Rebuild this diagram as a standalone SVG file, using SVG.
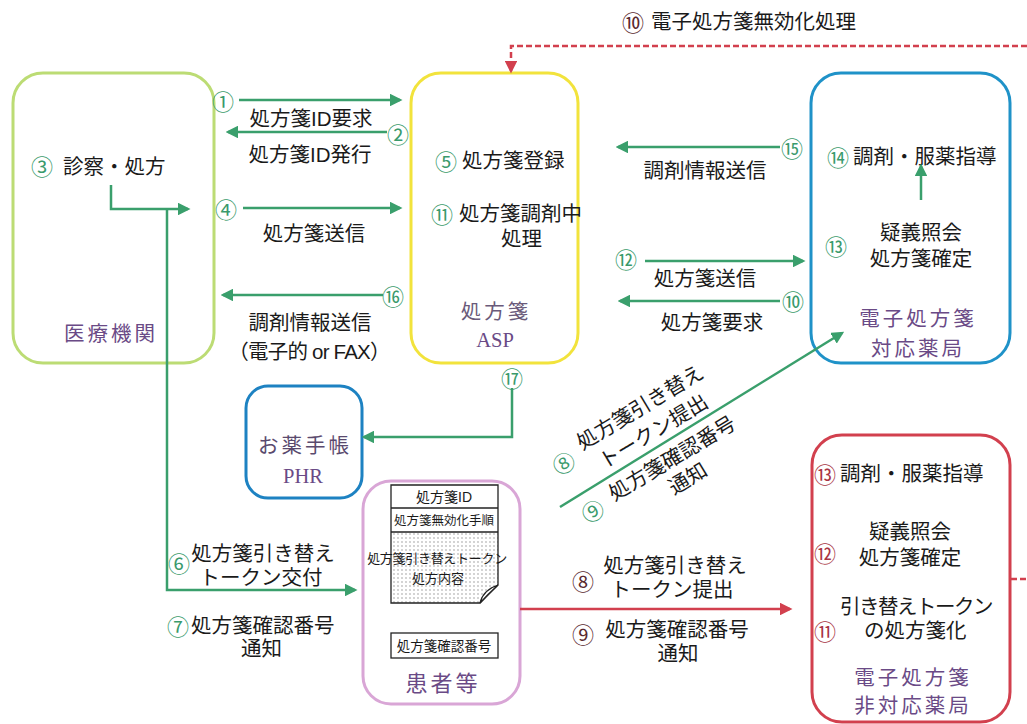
<svg xmlns="http://www.w3.org/2000/svg" width="1027" height="724" viewBox="0 0 1027 724">
<defs>
<style>
text{font-family:"Liberation Sans","Noto Sans CJK JP",sans-serif;fill:#1a1a1a;dominant-baseline:central}
.t{font-size:20.5px}
.m{text-anchor:middle}
.n{font-size:22px;fill:#3a9a6c;text-anchor:middle;font-family:"Noto Sans CJK JP",sans-serif}
.nr{font-size:22px;fill:#a83444;text-anchor:middle;font-family:"Noto Sans CJK JP",sans-serif}
.p{fill:#6a4a86;letter-spacing:3px}
.s{font-family:"Liberation Serif",serif;fill:#6a4a86;letter-spacing:0}
.g{stroke:#3a9f6c;stroke-width:2.5;fill:none}
.r{stroke:#d2404e;stroke-width:2.5;fill:none}
.box{fill:#fff;stroke-width:3}
.d{font-size:13px;text-anchor:middle}
</style>
<marker id="ag" viewBox="0 0 10 10" refX="8" refY="5" markerWidth="5" markerHeight="5" orient="auto"><path d="M0,0L10,5L0,10z" fill="#3a9f6c"/></marker>
<marker id="ar" viewBox="0 0 10 10" refX="8" refY="5" markerWidth="5" markerHeight="5" orient="auto"><path d="M0,0L10,5L0,10z" fill="#d2404e"/></marker>
<pattern id="dots" width="4" height="4" patternUnits="userSpaceOnUse"><rect width="4" height="4" fill="#fff"/><circle cx="2" cy="2" r="0.7" fill="#888"/></pattern>
</defs>

<g id="medical">
<rect class="box" x="13" y="73" width="201" height="290" rx="30" stroke="#bcdc74"/>
<text class="n" x="42" y="165">③</text>
<text class="t" x="63" y="166">診察・処方</text>
<text class="t m p" x="111" y="333">医療機関</text>
</g>

<g id="asp">
<rect class="box" x="411" y="73" width="167" height="290" rx="30" stroke="#f2e33c"/>
<text class="n" x="446" y="160">⑤</text>
<text class="t" x="462" y="160">処方箋登録</text>
<text class="n" x="442" y="213">⑪</text>
<text class="t" x="459" y="213">処方箋調剤中<tspan x="501" dy="25">処理</tspan></text>
<text class="t m" x="496" y="311"><tspan class="p" style="fill:#6a5a7a">処方箋</tspan><tspan class="s" x="495" dy="29">ASP</tspan></text>
</g>

<g id="pharmacy-e">
<rect class="box" x="811" y="73" width="199" height="290" rx="30" stroke="#1f92c8"/>
<text class="n" x="838" y="156">⑭</text>
<text class="t" x="853" y="156">調剤・服薬指導</text>
<text class="n" x="836" y="245">⑬</text>
<text class="t m" x="921" y="232">疑義照会<tspan x="921" dy="26">処方箋確定</tspan></text>
<text class="t m p" x="918" y="318">電子処方箋<tspan x="918" dy="30">対応薬局</tspan></text>
</g>

<g id="phr">
<rect class="box" x="246" y="386" width="116" height="112" rx="22" stroke="#1d82c2"/>
<text class="t m" x="305" y="445"><tspan class="p" style="fill:#5a4a6e">お薬手帳</tspan><tspan class="s" x="303" dy="31">PHR</tspan></text>
</g>

<g id="patient">
<rect class="box" x="363" y="481" width="157" height="223" rx="28" stroke="#d9a6d6"/>
<path d="M391,532H498V585L480,603H391Z" fill="url(#dots)"/>
<path d="M391,485H498V585L480,603H391Z" fill="none" stroke="#222" stroke-width="1.3"/>
<line x1="391" y1="508" x2="498" y2="508" stroke="#222" stroke-width="1.3"/>
<line x1="391" y1="532" x2="498" y2="532" stroke="#222" stroke-width="1.3"/>
<path d="M480,603Q483,590 498,585Q488,594 480,603Z" fill="#fff" stroke="#222" stroke-width="1.2"/>
<text class="d" x="444" y="497" style="font-size:14px">処方箋ID</text>
<text class="d" x="444" y="521" style="font-size:12.5px">処方箋無効化手順</text>
<text class="d" x="437" y="558" style="letter-spacing:-0.3px">処方箋引き替えトークン<tspan x="438" dy="20" style="letter-spacing:0">処方内容</tspan></text>
<rect x="391" y="633" width="107" height="25" fill="#fff" stroke="#222" stroke-width="1.3"/>
<text class="d" x="444" y="646" style="font-size:13.5px">処方箋確認番号</text>
<text class="t m p" x="443" y="683" style="font-size:22px">患者等</text>
</g>

<g id="pharmacy-ne">
<rect class="box" x="812" y="435" width="198" height="287" rx="30" stroke="#d2404e"/>
<text class="nr" x="825" y="473">⑬</text>
<text class="t" x="840" y="473">調剤・服薬指導</text>
<text class="t m" x="910" y="531">疑義照会<tspan x="910" dy="26">処方箋確定</tspan></text>
<text class="nr" x="825" y="552">⑫</text>
<text class="t" x="840" y="606"><tspan style="letter-spacing:-1.5px">引き替えトークン</tspan><tspan x="864" dy="24">の処方箋化</tspan></text>
<text class="nr" x="825" y="630">⑪</text>
<text class="t m p" x="913" y="677">電子処方箋<tspan x="913" dy="28">非対応薬局</tspan></text>
</g>

<g id="connectors">
<line class="g" x1="239" y1="100" x2="400" y2="100" marker-end="url(#ag)"/>
<line class="g" x1="387" y1="132" x2="228" y2="132" marker-end="url(#ag)"/>
<line class="g" x1="243" y1="208" x2="400" y2="208" marker-end="url(#ag)"/>
<line class="g" x1="383" y1="295" x2="223" y2="295" marker-end="url(#ag)"/>
<polyline class="g" points="111,185 111,209 188,209" marker-end="url(#ag)"/>
<polyline class="g" points="167,209 167,590 355,590" marker-end="url(#ag)"/>
<line class="g" x1="780" y1="147" x2="618" y2="147" marker-end="url(#ag)"/>
<line class="g" x1="645" y1="261" x2="803" y2="261" marker-end="url(#ag)"/>
<line class="g" x1="780" y1="301" x2="620" y2="301" marker-end="url(#ag)"/>
<line class="g" x1="921" y1="200" x2="921" y2="166" marker-end="url(#ag)" stroke-width="2"/>
<polyline class="g" points="512,388 512,437 364,437" marker-end="url(#ag)"/>
<line class="g" x1="560" y1="507" x2="842" y2="333" marker-end="url(#ag)"/>
<line class="r" x1="520" y1="609" x2="790" y2="609" marker-end="url(#ar)"/>
<polyline class="r" points="1027,46 511,46 511,71" stroke-dasharray="6,3" marker-end="url(#ar)"/>
<line class="r" x1="1011" y1="579" x2="1027" y2="579" stroke-dasharray="6,3"/>
</g>

<g id="labels">
<text class="nr" x="633" y="21" style="fill:#5a2a30">⑩</text>
<text class="t" x="651" y="21">電子処方箋無効化処理</text>
<text class="n" x="223" y="100">①</text>
<text class="t m" x="311" y="118">処方箋ID要求</text>
<text class="n" x="398" y="133">②</text>
<text class="t m" x="310" y="154">処方箋ID発行</text>
<text class="n" x="226" y="208">④</text>
<text class="t m" x="314" y="233">処方箋送信</text>
<text class="n" x="393" y="295">⑯</text>
<text class="t m" x="310" y="322">調剤情報送信<tspan x="309" dy="29" style="letter-spacing:-0.8px">（電子的 or FAX）</tspan></text>
<text class="n" x="792" y="147">⑮</text>
<text class="t m" x="705" y="170">調剤情報送信</text>
<text class="n" x="626" y="258">⑫</text>
<text class="t m" x="705" y="278">処方箋送信</text>
<text class="n" x="793" y="300">⑩</text>
<text class="t m" x="712" y="322">処方箋要求</text>
<text class="n" x="512" y="377">⑰</text>
<text class="n" x="179" y="562">⑥</text>
<text class="t m" x="263" y="553">処方箋引き替え<tspan x="261" dy="24">トークン交付</tspan></text>
<text class="n" x="178" y="625">⑦</text>
<text class="t" x="191" y="625">処方箋確認番号<tspan x="241" dy="23">通知</tspan></text>
<text class="n" transform="translate(563,462) rotate(-31)">⑧</text>
<text class="t m" transform="translate(640,407) rotate(-31)">処方箋引き替え<tspan x="-1" dy="27">トークン提出</tspan></text>
<text class="t m" transform="translate(672,458) rotate(-31)">処方箋確認番号<tspan x="3" dy="25">通知</tspan></text>
<text class="n" transform="translate(592,510) rotate(-31)">⑨</text>
<text class="nr" x="583" y="580" style="fill:#5a2a30">⑧</text>
<text class="t m" x="675" y="565">処方箋引き替え<tspan x="672" dy="24">トークン提出</tspan></text>
<text class="nr" x="583" y="633" style="fill:#5a2a30">⑨</text>
<text class="t m" x="677" y="629">処方箋確認番号<tspan x="678" dy="24">通知</tspan></text>
</g>
</svg>
